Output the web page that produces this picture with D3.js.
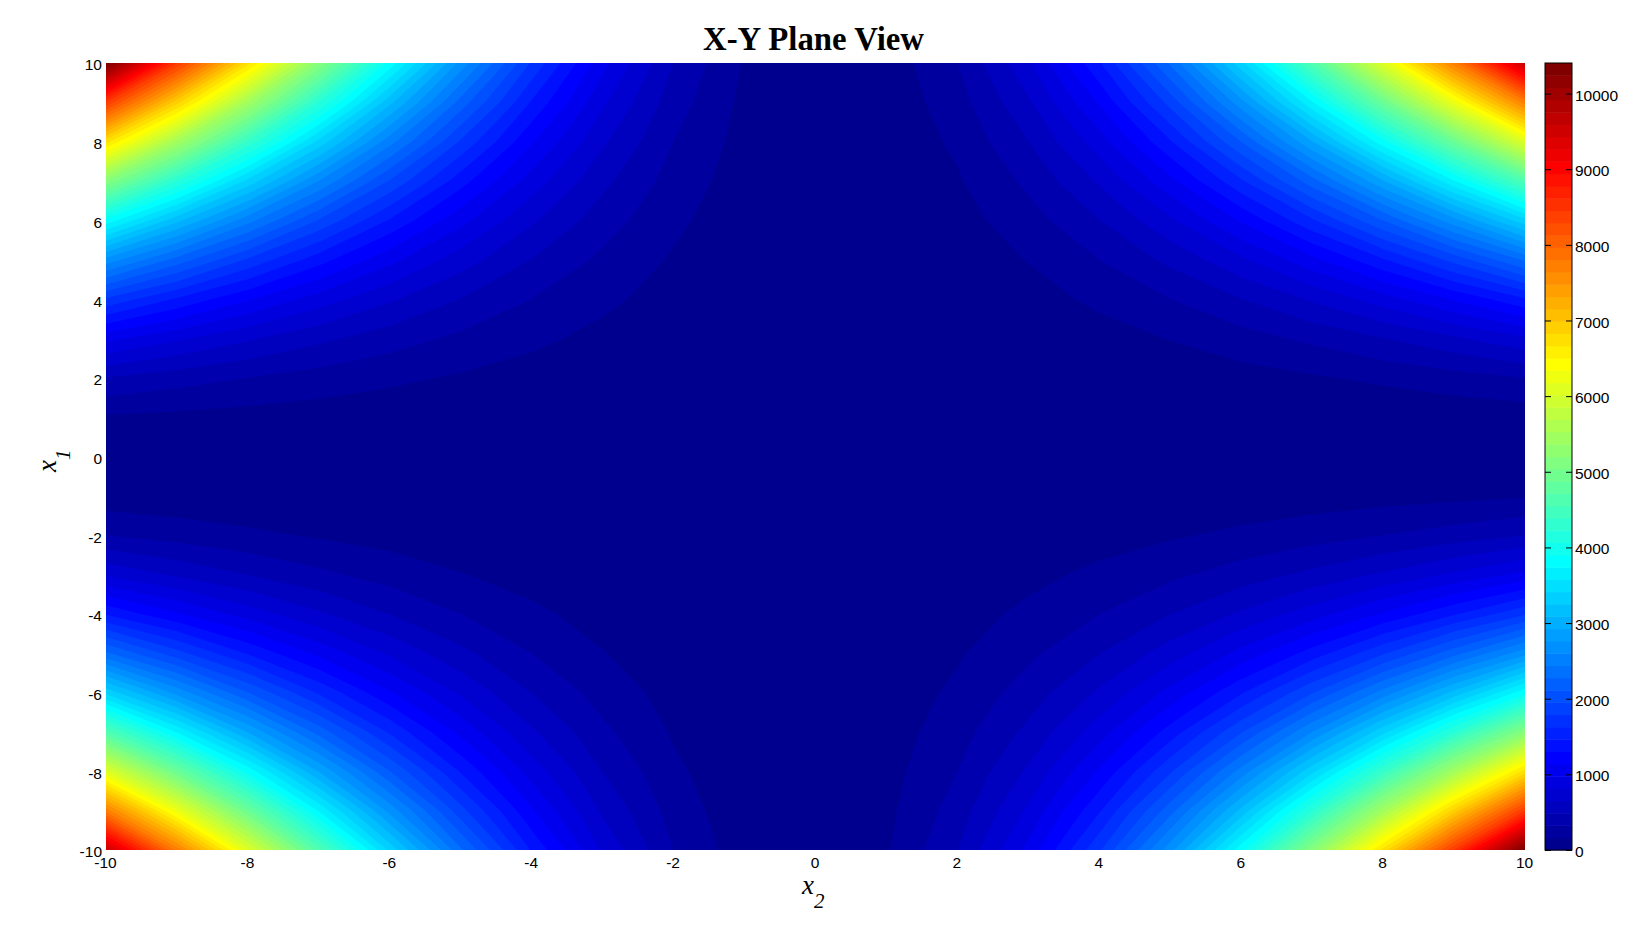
<!DOCTYPE html>
<html><head><meta charset="utf-8">
<script src="https://cdn.jsdelivr.net/npm/d3@7/dist/d3.min.js"></script>
<style>html,body{margin:0;background:#fff}svg{display:block}
.t text{font-family:"Liberation Sans",Arial,sans-serif;font-size:15.5px;fill:#000}</style>
</head><body><svg id="c" width="1632" height="945"></svg>
<script>
const x2Values = d3.range(-10, 11);
const x1Values = d3.range(-10, 11);
const xTicks = [-10,-8,-6,-4,-2,0,2,4,6,8,10];
const yTicks = [-10,-8,-6,-4,-2,0,2,4,6,8,10];
const cbTicks = [0,1000,2000,3000,4000,5000,6000,7000,8000,9000,10000];
const zMax = 10404, nLevels = 64;
const jetStops = [[0,"#00008f"],[7,"#0000ff"],[23,"#00ffff"],[39,"#ffff00"],[55,"#ff0000"],[63,"#800000"]];

const rowM10=[9604,7744,6084,4624,3364,2304,1444,784,324,64,4,144,484,1024,1764,2704,3844,5184,6724,8464,10404];
const rowM9=[7744,6241,4900,3721,2704,1849,1156,625,256,49,4,121,400,841,1444,2209,3136,4225,5476,6889,8464];
const rowM8=[6084,4900,3844,2916,2116,1444,900,484,196,36,4,100,324,676,1156,1764,2500,3364,4356,5476,6724];
const rowM7=[4624,3721,2916,2209,1600,1089,676,361,144,25,4,81,256,529,900,1369,1936,2601,3364,4225,5184];
const rowM6=[3364,2704,2116,1600,1156,784,484,256,100,16,4,64,196,400,676,1024,1444,1936,2500,3136,3844];
const rowM5=[2304,1849,1444,1089,784,529,324,169,64,9,4,49,144,289,484,729,1024,1369,1764,2209,2704];
const rowM4=[1444,1156,900,676,484,324,196,100,36,4,4,36,100,196,324,484,676,900,1156,1444,1764];
const rowM3=[784,625,484,361,256,169,100,49,16,1,4,25,64,121,196,289,400,529,676,841,1024];
const rowM2=[324,256,196,144,100,64,36,16,4,0,4,16,36,64,100,144,196,256,324,400,484];
const rowM1=[64,49,36,25,16,9,4,1,0,1,4,9,16,25,36,49,64,81,100,121,144];
const row0=[4,4,4,4,4,4,4,4,4,4,4,4,4,4,4,4,4,4,4,4,4];
const rowP1=[144,121,100,81,64,49,36,25,16,9,4,1,0,1,4,9,16,25,36,49,64];
const rowP2=[484,400,324,256,196,144,100,64,36,16,4,0,4,16,36,64,100,144,196,256,324];
const rowP3=[1024,841,676,529,400,289,196,121,64,25,4,1,16,49,100,169,256,361,484,625,784];
const rowP4=[1764,1444,1156,900,676,484,324,196,100,36,4,4,36,100,196,324,484,676,900,1156,1444];
const rowP5=[2704,2209,1764,1369,1024,729,484,289,144,49,4,9,64,169,324,529,784,1089,1444,1849,2304];
const rowP6=[3844,3136,2500,1936,1444,1024,676,400,196,64,4,16,100,256,484,784,1156,1600,2116,2704,3364];
const rowP7=[5184,4225,3364,2601,1936,1369,900,529,256,81,4,25,144,361,676,1089,1600,2209,2916,3721,4624];
const rowP8=[6724,5476,4356,3364,2500,1764,1156,676,324,100,4,36,196,484,900,1444,2116,2916,3844,4900,6084];
const rowP9=[8464,6889,5476,4225,3136,2209,1444,841,400,121,4,49,256,625,1156,1849,2704,3721,4900,6241,7744];
const rowP10=[10404,8464,6724,5184,3844,2704,1764,1024,484,144,4,64,324,784,1444,2304,3364,4624,6084,7744,9604];
const rows=[rowM10,rowM9,rowM8,rowM7,rowM6,rowM5,rowM4,rowM3,rowM2,rowM1,row0,rowP1,rowP2,rowP3,rowP4,rowP5,rowP6,rowP7,rowP8,rowP9,rowP10];

const svg = d3.select("#c");
const P = {l:106, r:1525, t:63, b:850};
const CB = {l:1545, r:1572};
const x = d3.scaleLinear().domain([-10,10]).range([P.l,P.r]);
const y = d3.scaleLinear().domain([-10,10]).range([P.b,P.t]);
const yc = d3.scaleLinear().domain([0,zMax]).range([P.b,P.t]);
const jet = d3.scaleLinear().domain(jetStops.map(d=>d[0])).range(jetStops.map(d=>d[1])).interpolate(d3.interpolateRgb);
const fmt = d => String(d);

const levels = d3.range(nLevels).map(i=>i*zMax/nLevels);
const nx = x2Values.length, ny = x1Values.length;
const contours = d3.contours().size([nx,ny]).thresholds(levels)(rows.flat());
const proj = d3.geoTransform({point(a,b){
  this.stream.point(x(-10+(a-0.5)), y(-10+(b-0.5)));
}});
const path = d3.geoPath(proj);
svg.append("clipPath").attr("id","pc").append("rect")
  .attr("x",P.l).attr("y",P.t).attr("width",P.r-P.l).attr("height",P.b-P.t);
svg.append("g").attr("clip-path","url(#pc)").selectAll("path").data(contours).join("path")
  .attr("d",path).attr("fill",(d,i)=>jet(i));

// axes
const gx = svg.append("g").attr("class","t").attr("transform",`translate(0,${P.b+5})`)
  .call(d3.axisBottom(x).tickValues(xTicks).tickSize(0).tickPadding(2).tickFormat(fmt));
gx.select(".domain").remove();
gx.selectAll("text").attr("dx","-1px");
const gy = svg.append("g").attr("class","t").attr("transform",`translate(${P.l-3},0)`)
  .call(d3.axisLeft(y).tickValues(yTicks).tickSize(0).tickPadding(1).tickFormat(fmt));
gy.select(".domain").remove();
gy.selectAll("text").attr("dy","0.45em");

// colorbar
svg.append("g").selectAll("rect").data(levels).join("rect")
  .attr("x",CB.l).attr("width",CB.r-CB.l)
  .attr("y",d=>yc(d+zMax/nLevels)).attr("height",d=>yc(d)-yc(d+zMax/nLevels)+0.5)
  .attr("fill",(d,i)=>jet(i));
const gc = svg.append("g").attr("class","t").attr("transform",`translate(${CB.r},0)`)
  .call(d3.axisRight(yc).tickValues(cbTicks).tickSize(-6).tickPadding(3).tickFormat(fmt));
gc.select(".domain").remove();
gc.selectAll("line").attr("stroke","#000");
gc.selectAll("text").attr("dy","0.42em");
const gc2 = svg.append("g").attr("transform",`translate(${CB.l},0)`)
  .call(d3.axisRight(yc).tickValues(cbTicks).tickSize(6).tickFormat(""));
gc2.select(".domain").remove();
gc2.selectAll("line").attr("stroke","#000");
svg.append("rect").attr("x",CB.l).attr("y",P.t).attr("width",CB.r-CB.l).attr("height",P.b-P.t)
  .attr("fill","none").attr("stroke","#000").attr("stroke-width",1);

// titles
svg.append("text").attr("x",813.5).attr("y",50).attr("text-anchor","middle")
  .attr("font-family","'Liberation Serif',serif").attr("font-weight","bold").attr("font-size",32.8)
  .text("X-Y Plane View");
const lab = svg.append("text").attr("x",802).attr("y",894)
  .attr("font-family","'Liberation Serif',serif").attr("font-style","italic").attr("font-size",27);
lab.append("tspan").text("x");
lab.append("tspan").attr("dy",14).attr("font-size",21).text("2");
const lab2 = svg.append("text").attr("transform","translate(56,472) rotate(-90)")
  .attr("font-family","'Liberation Serif',serif").attr("font-style","italic").attr("font-size",27);
lab2.append("tspan").text("x");
lab2.append("tspan").attr("dy",14).attr("font-size",21).text("1");
</script></body></html>
